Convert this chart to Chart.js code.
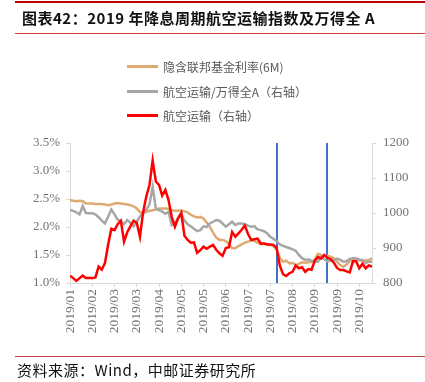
<!DOCTYPE html>
<html>
<head>
<meta charset="utf-8">
<script src="https://cdn.jsdelivr.net/npm/chart.js@4/dist/chart.umd.min.js"></script>
<style>
  html, body { margin:0; padding:0; background:#fff; }
  #wrap { position:relative; width:425px; height:382px; overflow:hidden; background:#fff; }
  #c { position:absolute; left:0; top:0; }
  .rule { position:absolute; left:15px; width:410px; background:#C00000; }
  #title { position:absolute; left:22px; top:7px; font-family:"Noto Sans CJK SC"; font-weight:bold; font-size:15px; letter-spacing:0.5px; color:#111; white-space:nowrap; line-height:22px; }
  #source { position:absolute; left:17px; top:360px; font-family:"Noto Sans CJK SC"; font-size:15px; letter-spacing:0.5px; color:#111; white-space:nowrap; line-height:20px; }
  .lg { position:absolute; left:127px; height:16px; display:flex; align-items:center; font-family:"Noto Sans CJK SC"; font-size:12px; color:#595959; white-space:nowrap; }
  .lg span.ln { display:inline-block; width:31px; height:3px; margin-right:5px; }
</style>
</head>
<body>
<div id="wrap">
  <canvas id="c" width="425" height="382"></canvas>
  <div class="rule" style="top:1px;height:2px;"></div>
  <div id="title">图表42：2019 年降息周期航空运输指数及万得全 A</div>
  <div class="rule" style="top:33px;height:1px;background:#D04040;"></div>
  <div id="legend"></div>
  <div class="rule" style="top:356px;height:1px;background:#C04040;"></div>
  <div id="source">资料来源：Wind，中邮证券研究所</div>
</div>
<script>
// x-axis tick labels (one every 14 trading days)
const tickLabels = ['2019/01','2019/02','2019/03','2019/03','2019/04','2019/05','2019/05','2019/06','2019/07','2019/07','2019/08','2019/09','2019/09','2019/10'];
const labelStep = 14;   // trading days between tick labels
const dayStep = 2;      // trading days between samples
const lastDay = 190;
// Fed rate cut days (trading-day index)
const cutDays = [130, 162];

const seriesNames = ['隐含联邦基金利率(6M)', '航空运输/万得全A（右轴）', '航空运输（右轴）'];

// implied fed funds rate (6M), %
const fedRate = [
  2.48,2.47,2.46,2.47,2.46,2.42,2.42,2.42,2.41,2.41,
  2.41,2.40,2.39,2.40,2.42,2.43,2.42,2.41,2.40,2.39,
  2.37,2.33,2.27,2.24,2.27,2.29,2.30,2.31,2.33,2.33,
  2.33,2.32,2.30,2.29,2.29,2.30,2.28,2.26,2.22,2.19,
  2.17,2.18,2.15,2.08,2.00,1.90,1.81,1.77,1.77,1.75,
  1.70,1.62,1.62,1.66,1.69,1.72,1.74,1.76,1.75,1.72,
  1.69,1.70,1.68,1.68,1.66,1.60,1.45,1.38,1.40,1.35,
  1.36,1.32,1.34,1.37,1.36,1.37,1.38,1.42,1.52,1.50,
  1.48,1.48,1.47,1.44,1.38,1.32,1.29,1.33,1.39,1.43,
  1.44,1.40,1.40,1.40,1.41,1.44
];

// airline transport / Wind All A (right axis)
const airRelative = [
  1009,1006,1002,996,1020,1000,999,999,996,988,
  978,970,990,1010,996,981,977,968,980,972,
  962,975,990,1000,1009,1025,1075,1013,1008,1004,
  998,1003,966,972,985,998,978,968,962,955,
  948,951,962,960,970,975,980,978,970,961,
  968,975,966,970,970,968,964,961,962,953,
  951,948,942,932,926,920,910,906,903,900,
  896,892,880,871,866,868,863,861,861,874,
  868,862,864,866,870,866,861,862,869,871,
  870,867,865,857,861,861
];

// airline transport index (right axis)
const airIndex = [
  821,814,806,814,821,814,814,814,816,847,
  838,857,910,955,951,968,978,918,945,962,
  978,972,932,1002,1047,1080,1150,1090,1080,1050,
  1066,1037,989,961,985,1000,935,923,915,916,
  886,894,904,898,904,909,895,885,878,900,
  902,946,932,942,952,964,940,923,925,927,
  913,913,911,910,909,900,850,825,820,828,
  832,850,842,845,832,840,838,864,874,870,
  880,872,868,858,843,837,837,833,830,862,
  862,842,855,842,850,847
];

const toPoints = arr => arr.map((v, i) => ({ x: i * dayStep, y: v }));

const eventLines = {
  id: 'eventLines',
  beforeDatasetsDraw(chart) {
    const { ctx, chartArea, scales } = chart;
    ctx.save();
    ctx.strokeStyle = '#4472C4';
    ctx.lineWidth = 2;
    cutDays.forEach(d => {
      const px = Math.round(scales.x.getPixelForValue(d));
      ctx.beginPath();
      ctx.moveTo(px, chartArea.top);
      ctx.lineTo(px, chartArea.bottom);
      ctx.stroke();
    });
    ctx.restore();
  }
};

const axisFont = { family: '"Liberation Serif", "Times New Roman", serif', size: 13 };
const xFont = { family: '"Liberation Serif", "Times New Roman", serif', size: 13.5 };
const axisGray = '#D9D9D9';
const labelGray = '#737373';

const chart = new Chart(document.getElementById('c'), {
  type: 'line',
  data: {
    datasets: [
      { label: seriesNames[0], data: toPoints(fedRate), yAxisID: 'y', borderColor: '#DDAB72', borderWidth: 2.5, pointRadius: 0, tension: 0, order: 3 },
      { label: seriesNames[1], data: toPoints(airRelative), yAxisID: 'y1', borderColor: '#A6A6A6', borderWidth: 2.5, pointRadius: 0, tension: 0, order: 2 },
      { label: seriesNames[2], data: toPoints(airIndex), yAxisID: 'y1', borderColor: '#FF0000', borderWidth: 2.5, pointRadius: 0, tension: 0, order: 1 }
    ]
  },
  options: {
    responsive: false,
    animation: false,
    events: [],
    layout: { padding: { top: 143, bottom: 49, left: 0, right: 0 } },
    plugins: { legend: { display: false }, tooltip: { enabled: false } },
    scales: {
      x: {
        type: 'linear', min: 0, max: lastDay,
        border: { color: axisGray },
        grid: { drawOnChartArea: false, color: axisGray, tickLength: 4 },
        ticks: {
          stepSize: labelStep, includeBounds: false, maxTicksLimit: 30, autoSkip: false,
          minRotation: 90, maxRotation: 90, padding: 2,
          font: xFont, color: labelGray,
          callback: v => tickLabels[Math.round(v / labelStep)] || ''
        },
        afterFit: s => { s.height = 50; }
      },
      y: {
        position: 'left', min: 1, max: 3.5,
        border: { color: axisGray },
        grid: { drawOnChartArea: false, color: axisGray, tickLength: 4 },
        ticks: { stepSize: 0.5, padding: 6, font: axisFont, color: labelGray, callback: v => v.toFixed(1) + '%' },
        afterFit: s => { s.width = 70; }
      },
      y1: {
        position: 'right', min: 800, max: 1200,
        border: { color: axisGray },
        grid: { drawOnChartArea: false, color: axisGray, tickLength: 4 },
        ticks: { stepSize: 100, padding: 7, font: axisFont, color: labelGray, callback: v => String(v) },
        afterFit: s => { s.width = 53; }
      }
    }
  },
  plugins: [eventLines]
});

// legend built from the chart's datasets
const lgTops = [58.5, 83.5, 107];
const legend = document.getElementById('legend');
chart.data.datasets.forEach((ds, i) => {
  const row = document.createElement('div');
  row.className = 'lg';
  row.style.top = lgTops[i] + 'px';
  row.innerHTML = '<span class="ln" style="background:' + ds.borderColor + '"></span><span>' + ds.label + '</span>';
  legend.appendChild(row);
});
</script>
</body>
</html>
